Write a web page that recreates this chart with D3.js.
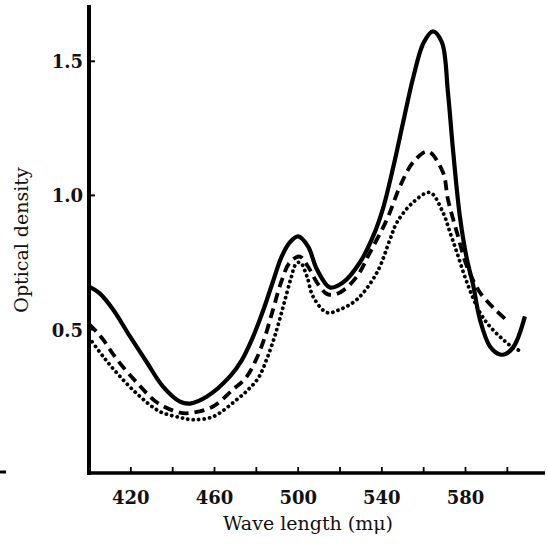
<!DOCTYPE html>
<html>
<head>
<meta charset="utf-8">
<script src="https://cdn.jsdelivr.net/npm/d3@7"></script>
<style>
  body { margin: 0; background: #fff; }
  text { font-family: "DejaVu Serif", "Liberation Serif", serif; fill: #111; }
</style>
</head>
<body>
<div id="chart"></div>
<script>
// wave length ticks (m mu) and optical density ticks
const xTicks = [420, 440, 460, 480, 500, 520, 540, 560, 580, 600];
const xLabels = [420, 460, 500, 540, 580];
const yTicks = [0.5, 1.0, 1.5];

// solid curve
const solidWave = [400, 405, 411.5, 419.6, 427.7, 435.4, 443.5, 448.3, 456.4, 467.4, 473, 478, 483, 488, 492, 496, 500, 504.7, 509.0, 515.2, 521.4, 529.5, 535.8, 540.5, 545.3, 550.1, 555.0, 560.0, 564.4, 568.7, 571.6, 574.0, 577.3, 580.7, 583.6, 586.9, 591.7, 596.5, 599.5, 603.6, 608.4];
const solidOD   = [0.660, 0.636, 0.575, 0.474, 0.377, 0.287, 0.231, 0.224, 0.250, 0.325, 0.385, 0.465, 0.565, 0.680, 0.770, 0.825, 0.847, 0.810, 0.724, 0.657, 0.675, 0.750, 0.847, 0.950, 1.100, 1.270, 1.440, 1.570, 1.612, 1.571, 1.384, 1.172, 0.922, 0.761, 0.668, 0.537, 0.437, 0.407, 0.410, 0.444, 0.549];

// dashed curve
const dashWave = [400, 403.8, 406.7, 413.4, 422.9, 432.5, 443.5, 449.7, 459.3, 468.8, 475, 480, 484, 488, 492, 496, 500.8, 504.7, 509.0, 514.2, 520.0, 528.1, 534.3, 542.4, 548.7, 554.9, 562.0, 569.2, 571.6, 575.9, 580.7, 586.9, 594.1, 600.3];
const dashOD   = [0.52, 0.49, 0.463, 0.388, 0.302, 0.228, 0.190, 0.190, 0.213, 0.276, 0.320, 0.390, 0.470, 0.575, 0.680, 0.750, 0.772, 0.735, 0.675, 0.631, 0.638, 0.698, 0.787, 0.910, 1.034, 1.123, 1.164, 1.086, 0.985, 0.862, 0.735, 0.638, 0.575, 0.530];

// dotted curve
const dotWave = [400, 406.7, 414.8, 424.4, 433.9, 443.5, 449.7, 459.3, 470.7, 476, 481, 485, 489, 493, 496.5, 499, 501, 504.2, 507.1, 513.8, 520.0, 528.1, 537.7, 543.9, 547.2, 554.9, 563.0, 569.2, 572.6, 575.9, 580.7, 586.9, 591.7, 597.9, 602.7, 607.0];
const dotOD   = [0.47, 0.40, 0.325, 0.250, 0.194, 0.172, 0.164, 0.175, 0.239, 0.275, 0.320, 0.390, 0.480, 0.590, 0.690, 0.745, 0.750, 0.698, 0.623, 0.563, 0.575, 0.612, 0.713, 0.836, 0.899, 0.974, 1.011, 0.937, 0.862, 0.787, 0.675, 0.563, 0.511, 0.463, 0.433, 0.418];

const W = 547, H = 545;
const svg = d3.select("#chart").append("svg")
    .attr("width", W)
    .attr("height", H);

const x = d3.scaleLinear().domain([400, 618]).range([89, 545]);
const y = d3.scaleLinear().domain([-0.035, 1.71]).range([473, 5]);

// axes lines
svg.append("line")
    .attr("x1", x(400)).attr("x2", x(400))
    .attr("y1", y(1.71)).attr("y2", y(-0.035) + 2)
    .attr("stroke", "#000").attr("stroke-width", 4);
svg.append("line")
    .attr("x1", x(400) - 2).attr("x2", x(618))
    .attr("y1", y(-0.035)).attr("y2", y(-0.035))
    .attr("stroke", "#000").attr("stroke-width", 3.5);

// x ticks (pointing up)
svg.selectAll(".xt").data(xTicks).enter().append("line")
    .attr("x1", d => x(d)).attr("x2", d => x(d))
    .attr("y1", y(-0.035)).attr("y2", y(-0.035) - 6)
    .attr("stroke", "#000").attr("stroke-width", 1.8);

svg.selectAll(".xl").data(xLabels).enter().append("text")
    .attr("x", d => x(d)).attr("y", y(-0.035) + 31)
    .attr("text-anchor", "middle")
    .style("font-size", "18px").style("font-weight", "bold")
    .text(d => d);

// y ticks (pointing right)
svg.selectAll(".yt").data(yTicks).enter().append("line")
    .attr("x1", x(400)).attr("x2", x(400) + 6)
    .attr("y1", d => y(d)).attr("y2", d => y(d))
    .attr("stroke", "#000").attr("stroke-width", 2);

svg.selectAll(".yl").data(yTicks).enter().append("text")
    .attr("x", 83).attr("y", d => y(d) + 7)
    .attr("text-anchor", "end")
    .style("font-size", "18px").style("font-weight", "bold")
    .text(d => d3.format(".1f")(d));

// axis titles
svg.append("text")
    .attr("x", 308).attr("y", 530)
    .attr("text-anchor", "middle")
    .style("font-size", "19px")
    .text("Wave length (m\u03bc)");

svg.append("text")
    .attr("transform", "translate(28,240) rotate(-90)")
    .attr("text-anchor", "middle")
    .style("font-size", "19px")
    .text("Optical density");

// stray mark at the left edge
svg.append("line")
    .attr("x1", 0).attr("x2", 6)
    .attr("y1", 472).attr("y2", 472)
    .attr("stroke", "#000").attr("stroke-width", 3);

const line = d3.line()
    .x(d => x(d[0]))
    .y(d => y(d[1]))
    .curve(d3.curveCatmullRom.alpha(0.5));

svg.append("path")
    .datum(d3.zip(dotWave, dotOD))
    .attr("d", line)
    .attr("fill", "none").attr("stroke", "#000")
    .attr("stroke-width", 3.8)
    .attr("stroke-linecap", "round")
    .attr("stroke-dasharray", "0.1 5.4");

svg.append("path")
    .datum(d3.zip(dashWave, dashOD))
    .attr("d", line)
    .attr("fill", "none").attr("stroke", "#000")
    .attr("stroke-width", 3.8)
    .attr("stroke-dasharray", "10 6");

svg.append("path")
    .datum(d3.zip(solidWave, solidOD))
    .attr("d", line)
    .attr("fill", "none").attr("stroke", "#000")
    .attr("stroke-width", 4.2);
</script>
</body>
</html>
